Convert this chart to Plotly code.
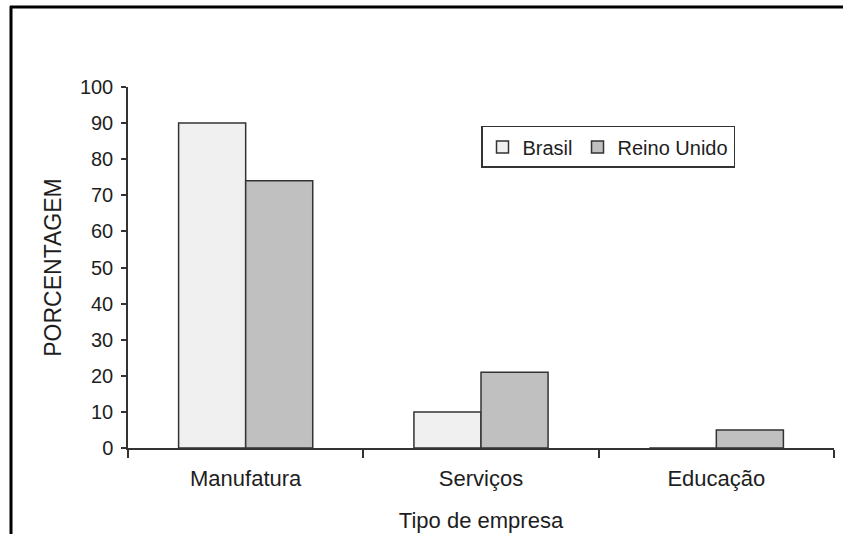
import plotly.graph_objects as go

# Percentual de empresas por tipo, Brasil vs Reino Unido
categorias = ["Manufatura", "Serviços", "Educação"]
brasil = [90, 10, 0]
reino_unido = [74, 21, 5]
y_ticks = [0, 10, 20, 30, 40, 50, 60, 70, 80, 90, 100]

W, H = 843, 534
ML, MR, MT, MB = 128, 9, 87, 86
FONT = "Liberation Sans, Arial, sans-serif"
INK = "#1e1e1e"

fig = go.Figure()
fig.add_trace(go.Bar(
    name="Brasil", x=categorias, y=brasil,
    marker=dict(color="#f0f0f0", line=dict(color="#333333", width=1.5)),
))
fig.add_trace(go.Bar(
    name="Reino Unido", x=categorias, y=reino_unido,
    marker=dict(color="#c0c0c0", line=dict(color="#333333", width=1.5)),
))

fig.update_layout(
    width=W, height=H,
    margin=dict(l=ML, r=MR, t=MT, b=MB, autoexpand=False),
    paper_bgcolor="white", plot_bgcolor="white",
    font=dict(family=FONT, size=21, color=INK),
    barmode="group", bargap=0.43, bargroupgap=0,
    showlegend=True,
    legend=dict(
        orientation="h", x=0.50, y=0.892, xanchor="left", yanchor="top",
        bordercolor="#333333", borderwidth=1.5, bgcolor="white",
        font=dict(size=20, color=INK), itemwidth=30,
        tracegroupgap=0,
    ),
)

fig.update_xaxes(
    automargin=False,
    showline=True, linecolor="#333333", linewidth=1.5, layer="above traces",
    ticks="outside", tickson="boundaries", ticklen=8, tickwidth=1.5,
    tickcolor="#333333", showgrid=False,
    ticklabelstandoff=10,
    title=dict(text="Tipo de empresa", font=dict(size=22), standoff=22),
    tickfont=dict(size=22),
)
fig.update_yaxes(
    automargin=False,
    range=[0, 100], tickvals=y_ticks,
    showline=True, linecolor="#333333", linewidth=1.5, layer="above traces",
    ticks="outside", ticklen=5, tickwidth=1.5, tickcolor="#333333",
    showgrid=False, zeroline=False,
    ticklabelstandoff=4,
    title=dict(text="PORCENTAGEM", font=dict(size=23), standoff=12),
    tickfont=dict(size=20),
)

# Moldura externa (topo e lado esquerdo)
fig.add_shape(type="line", xref="paper", yref="paper",
              x0=(10 - ML) / (W - ML - MR), x1=1 + MR / (W - ML - MR),
              y0=1 + (MT - 7) / (H - MT - MB), y1=1 + (MT - 7) / (H - MT - MB),
              line=dict(color="black", width=3))
fig.add_shape(type="line", xref="paper", yref="paper",
              x0=(11 - ML) / (W - ML - MR), x1=(11 - ML) / (W - ML - MR),
              y0=-MB / (H - MT - MB), y1=1 + (MT - 6) / (H - MT - MB),
              line=dict(color="black", width=3))

fig.write_html("out.html")
